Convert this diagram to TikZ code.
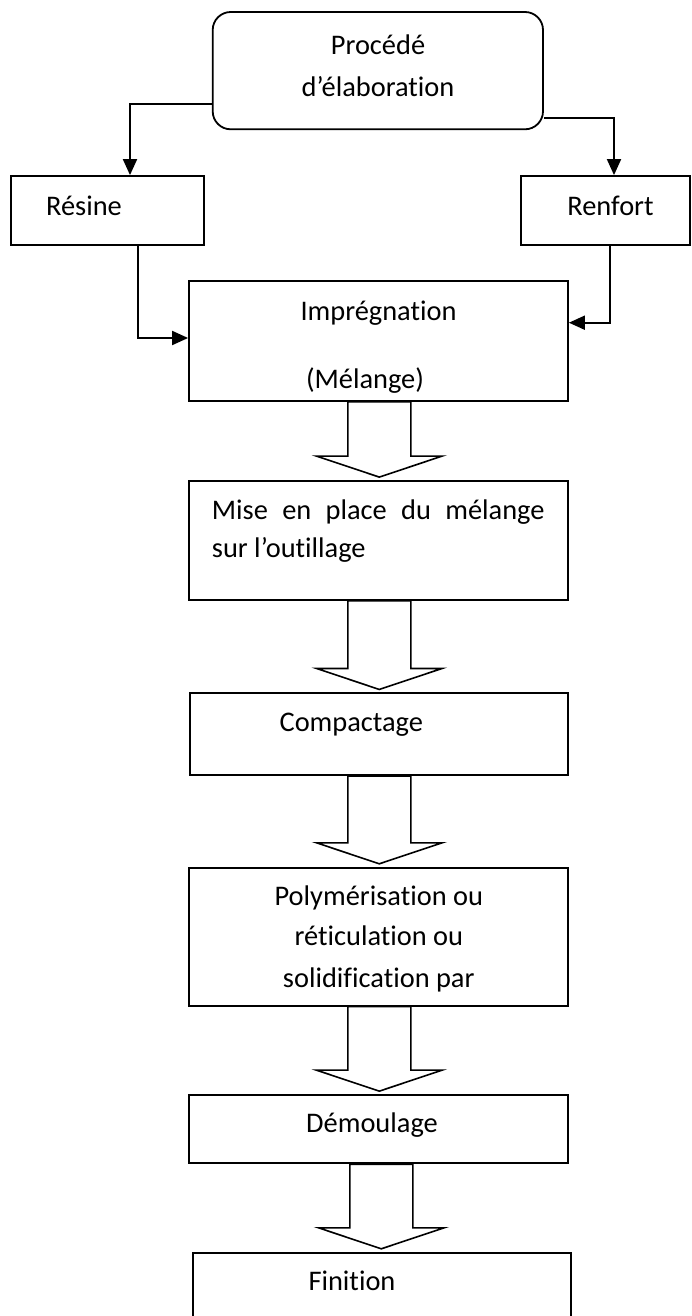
\documentclass[tikz,border=0pt]{standalone}
\usepackage{fontspec}
\setmainfont[Ligatures={NoCommon,NoContextual,NoRare}]{Carlito}
\usetikzlibrary{arrows.meta,calc}
\newcommand\blockarr[3]{%
  \draw[barrow] let \p1=(#1.south), \p2=(#2.north) in
    ({#3pt-31.5pt},\y1) -- ({#3pt-31.5pt},\y2+24pt) -- ({#3pt-62.8pt},\y2+24pt)
    -- ({#3pt},\y2+3pt) -- ({#3pt+62.8pt},\y2+24pt) -- ({#3pt+31.5pt},\y2+24pt)
    -- ({#3pt+31.5pt},\y1) -- cycle;}
\begin{document}
\begin{tikzpicture}[x=1pt,y=1pt,
  box/.style={draw,line width=1.8pt,inner sep=0pt},
  txt/.style={inner sep=0pt,anchor=base,font=\fontsize{28.4pt}{40pt}\selectfont},
  conn/.style={line width=1.9pt,-{Triangle[length=16pt,width=14pt]}},
  barrow/.style={line width=1.6pt,line join=miter}]
\clip (0,0) rectangle (691,-1316);
\fill[white] (0,0) rectangle (691,-1316);

% boxes
\node[box,rounded corners=18pt,minimum width=330.3pt,minimum height=117.3pt] (proc) at (377.85,-70.65) {};
\node[box,minimum width=193pt,minimum height=69pt] (resine) at (107.5,-210.5) {};
\node[box,minimum width=169pt,minimum height=69pt] (renfort) at (605.5,-210.5) {};
\node[box,minimum width=379pt,minimum height=120pt] (imp) at (378.5,-341) {};
\node[box,minimum width=379pt,minimum height=119pt] (mise) at (378.8,-540.5) {};
\node[box,minimum width=378pt,minimum height=81.7pt] (comp) at (379.2,-734.2) {};
\node[box,minimum width=379pt,minimum height=138pt] (poly) at (378.8,-936.7) {};
\node[box,minimum width=379pt,minimum height=68.3pt] (demo) at (378.8,-1129.2) {};
\node[box,minimum width=378pt,minimum height=90pt] (fini) at (381.7,-1297.7) {};

% texts
\node[txt] (tproc1) at (378,-55) {Procédé};
\node[txt] (tproc2) at (378,-96.7) {d’élaboration};
\node[txt] (tres) at (84,-215.7) {Résine};
\node[txt] (tren) at (610.5,-215.7) {Renfort};
\node[txt] (timp) at (378.5,-320) {Imprégnation};
\begin{scope}
  \clip (189,-281) rectangle (568,-392);
  \node[txt] (tmel) at (365,-388.3) {(Mélange)};
\end{scope}
\node[txt,anchor=base west] (tmise1) at (211.7,-519) {\makebox[332.6pt][s]{Mise en place du mélange}};
\node[txt,anchor=base west] (tmise2) at (211.7,-557.7) {sur l’outillage};
\node[txt] (tcomp) at (351.3,-731.7) {Compactage};
\node[txt] (tpoly1) at (378.8,-905) {Polymérisation ou};
\node[txt] (tpoly2) at (378.8,-945) {réticulation ou};
\node[txt] (tpoly3) at (378.8,-987.3) {solidification par};
\node[txt] (tdemo) at (372,-1132.7) {Démoulage};
\node[txt] (tfini) at (352,-1290) {Finition};

% connector bend points
\coordinate (l1) at (0,-104);
\coordinate (lx) at (130,0);
\coordinate (r1) at (0,-117.7);
\coordinate (rx) at (614,0);
\coordinate (l2) at (0,-338);
\coordinate (lx2) at (138,0);
\coordinate (r2) at (0,-322.7);
\coordinate (rx2) at (610,0);

\draw[conn] (proc.west |- l1) -| (resine.north -| lx);
\draw[conn] (proc.east |- r1) -| (renfort.north -| rx);
\draw[conn] (resine.south -| lx2) |- (imp.west |- l2);
\draw[conn] (renfort.south -| rx2) |- (imp.east |- r2);

% block arrows
\blockarr{imp}{mise}{379.3}
\blockarr{mise}{comp}{379.3}
\blockarr{comp}{poly}{379.3}
\blockarr{poly}{demo}{379.3}
\blockarr{demo}{fini}{381.3}
\end{tikzpicture}
\end{document}
